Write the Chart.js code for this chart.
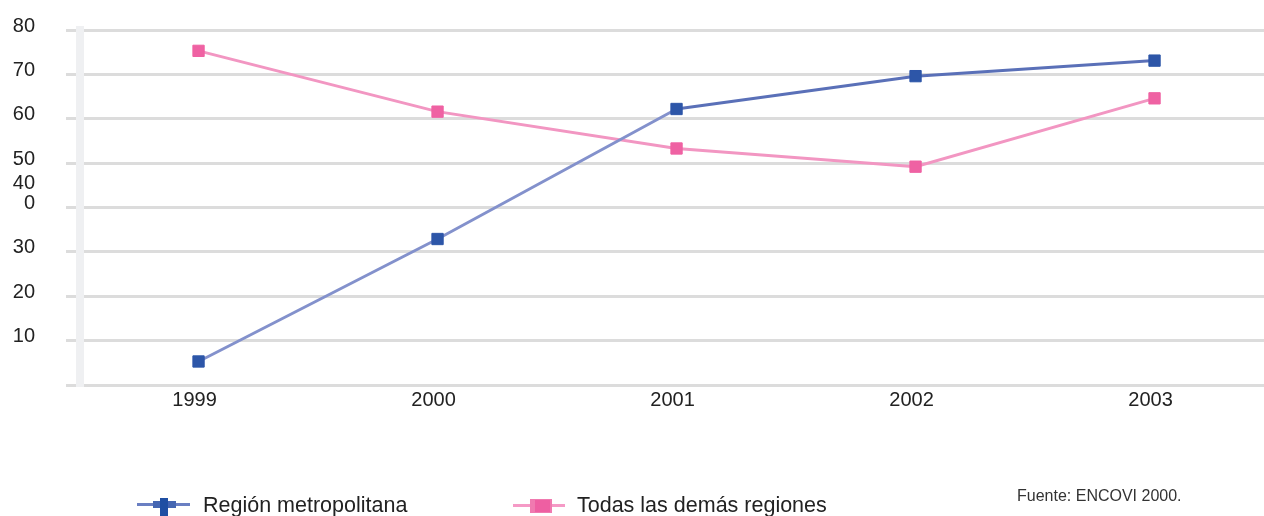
<!DOCTYPE html>
<html>
<head>
<meta charset="utf-8">
<title>Región metropolitana vs. demás regiones</title>
<script src="https://cdn.jsdelivr.net/npm/chart.js@4/dist/chart.umd.min.js"></script>
<style>
  html, body { margin: 0; padding: 0; background: #ffffff; }
  #wrap { position: relative; width: 1264px; height: 516px; overflow: hidden;
          font-family: "Liberation Sans", Arial, sans-serif; color: #222; }
  #chart { position: absolute; left: 0; top: 0; }
  .sw { position: absolute; }
  .leg-text { position: absolute; font-size: 21.5px; line-height: 24px; white-space: nowrap; color: #222; }
  .source { position: absolute; left: 1017px; top: 487px; font-size: 16px; line-height: 18px; color: #333; white-space: nowrap; }
</style>
</head>
<body>
<div id="wrap">
  <canvas id="chart" width="1264" height="516"></canvas>

  <!-- legend: Región metropolitana -->
  <div class="sw" style="left:137px; top:503px; width:53px; height:3px; background:#6a7fc2;"></div>
  <div class="sw" style="left:153px; top:501px; width:23px; height:7px; background:#4566b2;"></div>
  <div class="sw" style="left:160px; top:498px; width:8px; height:18px; background:#1f4fa3;"></div>
  <div class="leg-text" style="left:203px; top:493px;">Región metropolitana</div>

  <!-- legend: Todas las demás regiones -->
  <div class="sw" style="left:513px; top:504px; width:52px; height:3px; background:#f59ac6;"></div>
  <div class="sw" style="left:530px; top:499px; width:22px; height:14px; background:#f07ab0;"></div>
  <div class="sw" style="left:535px; top:500px; width:15px; height:12px; background:#ee5fa2;"></div>
  <div class="leg-text" style="left:577px; top:493px;">Todas las demás regiones</div>

  <div class="source">Fuente: ENCOVI 2000.</div>
</div>

<script>
// Survey years and the two regional series
const years = [1999, 2000, 2001, 2002, 2003];
const metropolitana = [5.3, 32.9, 62.2, 69.6, 73.1];
const demasRegiones = [75.3, 61.6, 53.3, 49.2, 64.6];

// Vertical axis ticks (the 40 tick carries a stray "0" under it)
const yTickValues = [0, 10, 20, 30, 40, 50, 60, 70, 80];
const yTickLabels = ['', '10', '20', '30', ['40', '0', ''], '50', '60', '70', '80'];

const toPoints = vals => years.map((yr, i) => ({ x: yr, y: vals[i] }));

const tickFont = { family: '"Liberation Sans", Arial, sans-serif', size: 20, lineHeight: 1.0 };

// keep the plot box fixed: no extra room reserved for edge labels
const noEdgePadding = s => { s.paddingTop = 0; s.paddingBottom = 0; s.paddingLeft = 0; s.paddingRight = 0; };

new Chart(document.getElementById('chart'), {
  type: 'line',
  data: {
    datasets: [
      {
        label: 'Región metropolitana',
        data: toPoints(metropolitana),
        borderColor: '#7485c4',
        borderWidth: 3,
        // the later stretch of this line is printed in a deeper blue
        segment: { borderColor: ctx => (ctx.p0DataIndex >= 2 ? '#5a70b8' : '#8391cc') },
        pointStyle: 'rect',
        pointRadius: 8,
        pointBackgroundColor: '#2d56a8',
        pointBorderColor: '#2d56a8',
        pointBorderWidth: 1,
        tension: 0
      },
      {
        label: 'Todas las demás regiones',
        data: toPoints(demasRegiones),
        borderColor: '#f296c2',
        borderWidth: 3,
        pointStyle: 'rect',
        pointRadius: 8,
        pointBackgroundColor: '#ef62a3',
        pointBorderColor: '#ef62a3',
        pointBorderWidth: 1,
        tension: 0
      }
    ]
  },
  options: {
    responsive: false,
    animation: false,
    devicePixelRatio: 1,
    layout: { autoPadding: false, padding: { top: 30, right: 0, left: 0, bottom: 0 } },
    plugins: {
      legend: { display: false },
      tooltip: { enabled: false }
    },
    scales: {
      x: {
        type: 'linear',
        min: 1998.504,
        max: 2003.458,
        afterFit: s => { s.height = 131; noEdgePadding(s); },
        grid: { display: false, drawTicks: false },
        border: { display: false },
        ticks: {
          stepSize: 1,
          includeBounds: false,
          autoSkip: false,
          padding: 5,
          labelOffset: -4,
          color: '#222',
          font: tickFont,
          maxRotation: 0,
          callback: v => (years.includes(v) ? String(v) : '')
        }
      },
      y: {
        type: 'linear',
        min: 0,
        max: 80,
        afterFit: s => { s.width = 80; noEdgePadding(s); },
        afterBuildTicks: s => { s.ticks = yTickValues.map(v => ({ value: v })); },
        grid: { color: '#dcdcdc', lineWidth: 3, drawTicks: true, tickLength: 14, tickColor: '#dcdcdc' },
        border: { display: true, color: '#eff0f2', width: 8 },
        ticks: {
          autoSkip: false,
          padding: 31,
          labelOffset: -4,
          color: '#222',
          font: tickFont,
          callback: v => yTickLabels[yTickValues.indexOf(v)]
        }
      }
    }
  }
});
</script>
</body>
</html>
